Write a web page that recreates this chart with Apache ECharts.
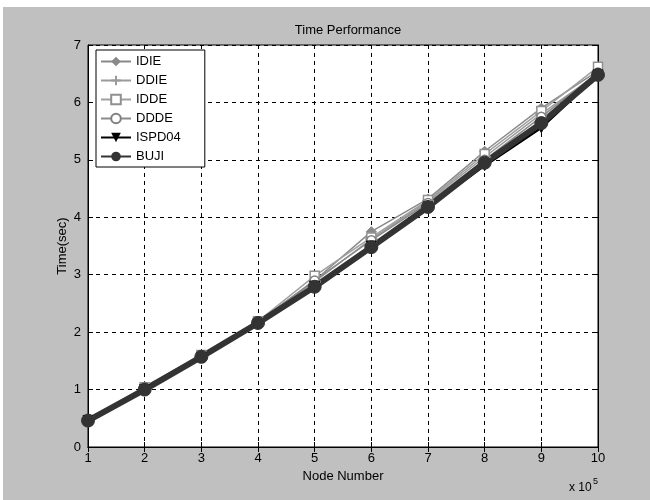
<!DOCTYPE html>
<html>
<head>
<meta charset="utf-8">
<script src="https://cdn.jsdelivr.net/npm/echarts@6/dist/echarts.min.js"></script>
<style>
  html, body { margin: 0; padding: 0; background: #fff; }
  #chart { width: 650px; height: 500px; }
</style>
</head>
<body>
<div id="chart"></div>
<script>
// node number (x 10^5)
const nodes = [1, 2, 3, 4, 5, 6, 7, 8, 9, 10]
const idie = [0.46, 1.05, 1.6, 2.18, 2.9, 3.75, 4.32, 5.15, 5.9, 6.55]
const ddie = [0.45, 1.02, 1.58, 2.17, 2.88, 3.62, 4.28, 5.05, 5.8, 6.5]
const idde = [0.47, 1.04, 1.6, 2.19, 2.98, 3.65, 4.3, 5.1, 5.85, 6.62]
const ddde = [0.45, 1.03, 1.58, 2.17, 2.9, 3.6, 4.25, 5.0, 5.75, 6.52]
const ispd04 = [0.46, 1.0, 1.56, 2.15, 2.8, 3.5, 4.18, 4.9, 5.56, 6.48]
const buji = [0.46, 1.0, 1.57, 2.16, 2.79, 3.48, 4.18, 4.95, 5.64, 6.48]

const pair = (ys) => nodes.map((x, i) => [x, ys[i]])

const chart = echarts.init(document.getElementById('chart'))
const font = 'Liberation Sans, Arial, sans-serif'
const plusPath = 'path://M4,0H6V4H10V6H6V10H4V6H0V4H4Z'

function mkLine(name, data, color, symbol, size, width, extra) {
  return Object.assign({
    name: name,
    type: 'line',
    data: pair(data),
    symbol: symbol,
    symbolSize: size,
    showAllSymbol: true,
    lineStyle: { color: color, width: width },
    itemStyle: { color: color, borderColor: color },
    emphasis: { disabled: true },
  }, extra || {})
}

const option = {
  animation: false,
  backgroundColor: '#fff',
  textStyle: { fontFamily: font },
  graphic: [
    { type: 'rect', z: -10, shape: { x: 3, y: 7, width: 647, height: 493 }, style: { fill: '#c0c0c0' } },
    { type: 'text', left: 569, top: 482, style: { text: 'x 10', font: '12px ' + font, fill: '#000' } },
    { type: 'text', left: 593, top: 477, style: { text: '5', font: '9px ' + font, fill: '#000' } },
  ],
  title: {
    text: 'Time Performance',
    left: 343,
    textAlign: 'center',
    top: 19,
    textStyle: { fontSize: 13, fontWeight: 'normal', color: '#000', fontFamily: font },
  },
  legend: {
    orient: 'vertical',
    left: 96,
    top: 50,
    backgroundColor: '#fff',
    borderColor: '#000',
    borderWidth: 1,
    borderRadius: 0,
    padding: [5, 24, 4, 4],
    itemWidth: 30,
    itemHeight: 12,
    itemGap: 6,
    textStyle: { fontSize: 13, color: '#000', fontFamily: font },
    data: ['IDIE', 'DDIE', 'IDDE', 'DDDE', 'ISPD04', 'BUJI'],
  },
  grid: { left: 88, top: 45, width: 510, height: 402, show: true, backgroundColor: '#fff', borderColor: '#000', borderWidth: 1 },
  xAxis: [
    {
      type: 'value', min: 1, max: 10, interval: 1,
      name: 'Node Number', nameLocation: 'middle', nameGap: 16,
      nameTextStyle: { fontSize: 13, color: '#000' },
      axisLine: { lineStyle: { color: '#000' } },
      axisTick: { inside: true, length: 5, lineStyle: { color: '#000' } },
      axisLabel: { color: '#000', fontSize: 13, margin: 5 },
      splitLine: { show: true, lineStyle: { color: '#000', type: [4, 4] } },
    },
    {
      type: 'value', min: 1, max: 10, interval: 1, position: 'top',
      axisLine: { lineStyle: { color: '#000' } },
      axisTick: { inside: true, length: 5, lineStyle: { color: '#000' } },
      axisLabel: { show: false }, splitLine: { show: false },
    },
  ],
  yAxis: [
    {
      type: 'value', min: 0, max: 7, interval: 1,
      name: 'Time(sec)', nameLocation: 'middle', nameGap: 19, nameRotate: 90, nameMoveOverlap: false,
      nameTextStyle: { fontSize: 13, color: '#000' },
      axisLine: { show: true, lineStyle: { color: '#000' } },
      axisTick: { show: true, inside: true, length: 5, lineStyle: { color: '#000' } },
      axisLabel: { color: '#000', fontSize: 13, margin: 7 },
      splitLine: { show: true, lineStyle: { color: '#000', type: [4, 4] } },
    },
    {
      type: 'value', min: 0, max: 7, interval: 1, position: 'right',
      axisLine: { show: true, lineStyle: { color: '#000' } },
      axisTick: { show: true, inside: true, length: 5, lineStyle: { color: '#000' } },
      axisLabel: { show: false }, splitLine: { show: false },
    },
  ],
  series: [
    mkLine('IDIE', idie, '#8a8a8a', 'diamond', 10, 1.5),
    mkLine('DDIE', ddie, '#9a9a9a', plusPath, 11, 1.5),
    mkLine('IDDE', idde, '#a0a0a0', 'rect', 9, 1.5, { itemStyle: { color: '#fff', borderColor: '#909090', borderWidth: 1.5 } }),
    mkLine('DDDE', ddde, '#8a8a8a', 'circle', 9, 1.5, { itemStyle: { color: '#fff', borderColor: '#808080', borderWidth: 1.5 } }),
    mkLine('ISPD04', ispd04, '#000', 'triangle', 10, 2.5, { symbolRotate: 180 }),
    mkLine('BUJI', buji, '#333', 'circle', 13, 6),
  ],
}

chart.setOption(option)
</script>
</body>
</html>
